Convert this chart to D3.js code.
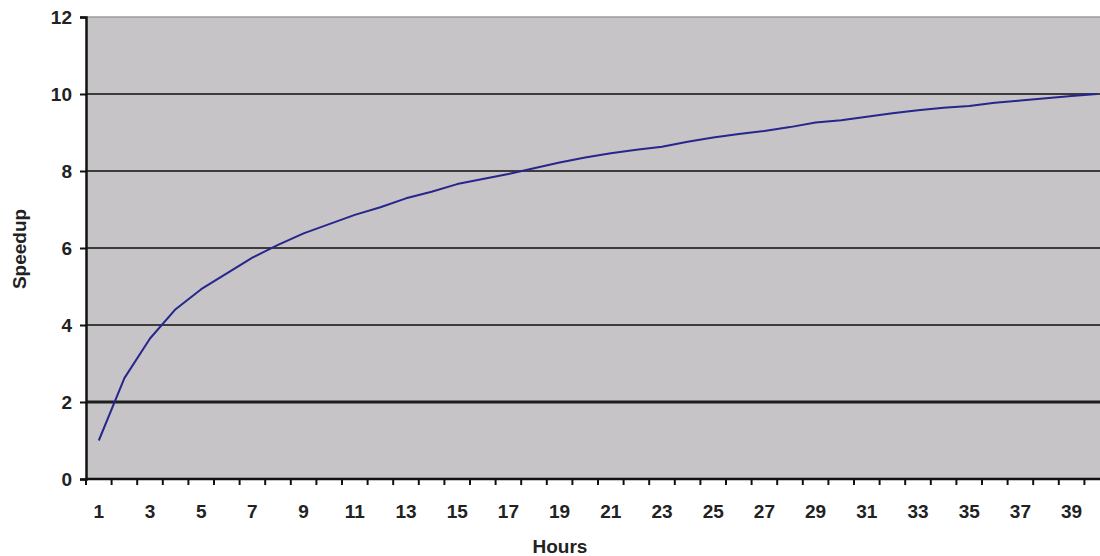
<!DOCTYPE html>
<html>
<head>
<meta charset="utf-8">
<script src="https://cdn.jsdelivr.net/npm/d3@7/dist/d3.min.js"></script>
<style>
  html, body { margin: 0; padding: 0; background: #ffffff; }
  svg { display: block; }
</style>
</head>
<body>
<svg id="chart" width="1100" height="556"></svg>
<script>
// ---- data ----
const hours = d3.range(1, 41).map(String);
const speedup = [
  1.00, 2.62, 3.65, 4.41, 4.93, 5.34, 5.75, 6.08, 6.38, 6.62,
  6.86, 7.06, 7.29, 7.46, 7.66, 7.79, 7.92, 8.07, 8.22, 8.35,
  8.46, 8.55, 8.63, 8.76, 8.87, 8.96, 9.04, 9.14, 9.26, 9.32,
  9.41, 9.50, 9.58, 9.64, 9.69, 9.77, 9.83, 9.89, 9.95, 10.00
];
const yTicks = [0, 2, 4, 6, 8, 10, 12];
const xTickLabels = hours.filter((d, i) => i % 2 === 0);
const xTitle = "Hours";
const yTitle = "Speedup";

// ---- layout ----
const svg = d3.select("#chart");
const pLeft = 86, pRight = 1110, pTop = 17, pBottom = 479;
const font = "'Liberation Sans', Arial, sans-serif";

const x = d3.scaleBand().domain(hours).range([pLeft, pRight]).padding(0);
const y = d3.scaleLinear().domain([0, 12]).range([pBottom, pTop]);

// plot background
svg.append("rect")
  .attr("x", pLeft).attr("y", pTop)
  .attr("width", pRight - pLeft).attr("height", pBottom - pTop)
  .attr("fill", "#c6c4c7");

// top border
svg.append("line")
  .attr("x1", pLeft).attr("x2", pRight)
  .attr("y1", pTop).attr("y2", pTop)
  .attr("stroke", "#9c9c9c").attr("stroke-width", 1.5);

// gridlines
svg.append("g").selectAll("line")
  .data(yTicks.filter(d => d > 0 && d < 12))
  .join("line")
  .attr("x1", pLeft).attr("x2", pRight)
  .attr("y1", d => y(d)).attr("y2", d => y(d))
  .attr("stroke", d => d === 2 ? "#1e1e1e" : "#3c3c3c")
  .attr("stroke-width", d => d === 2 ? 3 : 2);

// y axis
const yAxis = svg.append("g")
  .attr("transform", `translate(${pLeft},0)`)
  .call(d3.axisLeft(y).tickValues(yTicks).tickSize(6).tickPadding(8).tickFormat(d3.format("d")));
yAxis.select(".domain").attr("stroke", "#111").attr("stroke-width", 2.5);
yAxis.selectAll(".tick line").attr("stroke", "#111").attr("stroke-width", 2);
yAxis.selectAll("text")
  .attr("font-family", font).attr("font-size", 19).attr("font-weight", "bold")
  .attr("fill", "#222");

// x axis (labels on odd categories, ticks at band boundaries)
const xAxis = svg.append("g")
  .attr("transform", `translate(0,${pBottom})`)
  .call(d3.axisBottom(x).tickValues(xTickLabels).tickSize(0).tickPadding(26));
xAxis.select(".domain").remove();
xAxis.selectAll("text")
  .attr("font-family", font).attr("font-size", 19).attr("font-weight", "bold")
  .attr("fill", "#222");

svg.append("line")
  .attr("x1", pLeft).attr("x2", pRight)
  .attr("y1", pBottom).attr("y2", pBottom)
  .attr("stroke", "#111").attr("stroke-width", 2.5);

svg.append("g").selectAll("line")
  .data(hours)
  .join("line")
  .attr("x1", d => x(d)).attr("x2", d => x(d))
  .attr("y1", pBottom).attr("y2", pBottom + 6)
  .attr("stroke", "#111").attr("stroke-width", 2);

// line series
const line = d3.line()
  .x((d, i) => x(hours[i]) + x.bandwidth() / 2)
  .y(d => y(d));
svg.append("path")
  .datum(speedup)
  .attr("d", line)
  .attr("fill", "none")
  .attr("stroke", "#26268c")
  .attr("stroke-width", 2)
  .attr("stroke-linejoin", "round");

// titles
svg.append("text")
  .attr("x", 560).attr("y", 553)
  .attr("text-anchor", "middle")
  .attr("font-family", font).attr("font-size", 19).attr("font-weight", "bold")
  .attr("fill", "#222")
  .text(xTitle);

svg.append("text")
  .attr("transform", "translate(26,249) rotate(-90)")
  .attr("text-anchor", "middle")
  .attr("font-family", font).attr("font-size", 19).attr("font-weight", "bold")
  .attr("fill", "#222")
  .text(yTitle);
</script>
</body>
</html>
